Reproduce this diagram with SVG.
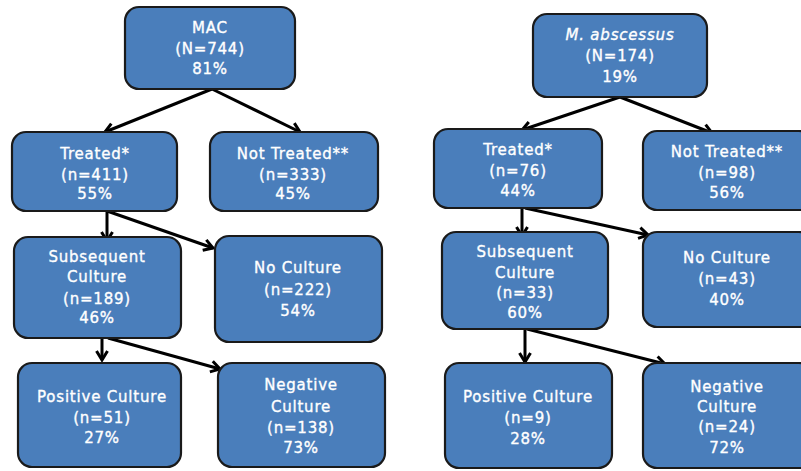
<svg xmlns="http://www.w3.org/2000/svg" width="801" height="471" viewBox="0 0 801 471">
<defs>
<style>
.box{fill:#4a7ebb;stroke:#1a1a1a;stroke-width:2.2}
.t{font-family:"DejaVu Sans",Verdana,sans-serif;font-size:15px;fill:#ffffff;stroke:#ffffff;stroke-width:0.35;text-anchor:middle;letter-spacing:0.8px}
.c{stroke:#000;stroke-width:3;fill:none;marker-end:url(#ah)}
</style>
<marker id="ah" markerUnits="userSpaceOnUse" viewBox="0 0 14 14" refX="12" refY="7" markerWidth="14" markerHeight="14" orient="auto">
<path d="M3,1.5 L12,7 L3,12.5" fill="none" stroke="#000" stroke-width="3"/>
</marker>
</defs>
<rect width="801" height="471" fill="#ffffff"/>
<g id="connectors">
<line class="c" x1="212" y1="89" x2="105" y2="132"/>
<line class="c" x1="212" y1="89" x2="300" y2="132"/>
<line class="c" x1="107" y1="211" x2="107" y2="241"/>
<line class="c" x1="107" y1="211" x2="213" y2="248"/>
<line class="c" x1="102" y1="338" x2="102" y2="360"/>
<line class="c" x1="108" y1="338" x2="220" y2="369"/>
<line class="c" x1="620" y1="97" x2="522" y2="130"/>
<line class="c" x1="620" y1="97" x2="712" y2="133"/>
<line class="c" x1="522" y1="208" x2="522" y2="236"/>
<line class="c" x1="525" y1="208" x2="648" y2="235"/>
<line class="c" x1="525" y1="329" x2="525" y2="362"/>
<line class="c" x1="527" y1="329" x2="665" y2="364"/>
</g>
<g id="mac">
<rect class="box" x="125" y="7" width="170" height="82" rx="14"/>
<text class="t" x="210" y="33">MAC</text>
<text class="t" x="210" y="54">(N=744)</text>
<text class="t" x="210" y="74">81%</text>
</g>
<g id="treated-mac">
<rect class="box" x="12" y="132" width="165" height="79" rx="14"/>
<text class="t" x="95" y="159">Treated*</text>
<text class="t" x="95" y="180">(n=411)</text>
<text class="t" x="95" y="199">55%</text>
</g>
<g id="not-treated-mac">
<rect class="box" x="210" y="132" width="168" height="79" rx="14"/>
<text class="t" x="293" y="159">Not Treated**</text>
<text class="t" x="293" y="180">(n=333)</text>
<text class="t" x="293" y="199">45%</text>
</g>
<g id="subsequent-mac">
<rect class="box" x="14" y="237" width="167" height="101" rx="14"/>
<text class="t" x="97" y="262">Subsequent</text>
<text class="t" x="97" y="282">Culture</text>
<text class="t" x="97" y="304">(n=189)</text>
<text class="t" x="97" y="323">46%</text>
</g>
<g id="no-culture-mac">
<rect class="box" x="215" y="236" width="167" height="106" rx="14"/>
<text class="t" x="298" y="273">No Culture</text>
<text class="t" x="298" y="295">(n=222)</text>
<text class="t" x="298" y="316">54%</text>
</g>
<g id="positive-mac">
<rect class="box" x="18" y="363" width="163" height="104" rx="14"/>
<text class="t" x="102" y="402">Positive Culture</text>
<text class="t" x="102" y="423">(n=51)</text>
<text class="t" x="102" y="443">27%</text>
</g>
<g id="negative-mac">
<rect class="box" x="218" y="363" width="167" height="104" rx="14"/>
<text class="t" x="301" y="390">Negative</text>
<text class="t" x="301" y="412">Culture</text>
<text class="t" x="301" y="433">(n=138)</text>
<text class="t" x="301" y="453">73%</text>
</g>
<g id="mabs">
<rect class="box" x="533" y="14" width="174" height="83" rx="14"/>
<text class="t" x="620" y="40" font-style="italic">M. abscessus</text>
<text class="t" x="620" y="61">(N=174)</text>
<text class="t" x="620" y="82">19%</text>
</g>
<g id="treated-mabs">
<rect class="box" x="434" y="129" width="168" height="79" rx="14"/>
<text class="t" x="518" y="155">Treated*</text>
<text class="t" x="518" y="176">(n=76)</text>
<text class="t" x="518" y="196">44%</text>
</g>
<g id="not-treated-mabs">
<rect class="box" x="643" y="131" width="170" height="79" rx="14"/>
<text class="t" x="727" y="157">Not Treated**</text>
<text class="t" x="727" y="178">(n=98)</text>
<text class="t" x="727" y="198">56%</text>
</g>
<g id="subsequent-mabs">
<rect class="box" x="442" y="232" width="166" height="97" rx="14"/>
<text class="t" x="525" y="257">Subsequent</text>
<text class="t" x="525" y="278">Culture</text>
<text class="t" x="525" y="298">(n=33)</text>
<text class="t" x="525" y="318">60%</text>
</g>
<g id="no-culture-mabs">
<rect class="box" x="643" y="232" width="170" height="95" rx="14"/>
<text class="t" x="727" y="263">No Culture</text>
<text class="t" x="727" y="284">(n=43)</text>
<text class="t" x="727" y="305">40%</text>
</g>
<g id="positive-mabs">
<rect class="box" x="445" y="363" width="167" height="105" rx="14"/>
<text class="t" x="528" y="402">Positive Culture</text>
<text class="t" x="528" y="423">(n=9)</text>
<text class="t" x="528" y="444">28%</text>
</g>
<g id="negative-mabs">
<rect class="box" x="643" y="363" width="170" height="105" rx="14"/>
<text class="t" x="727" y="392">Negative</text>
<text class="t" x="727" y="412">Culture</text>
<text class="t" x="727" y="432">(n=24)</text>
<text class="t" x="727" y="453">72%</text>
</g>
</svg>
